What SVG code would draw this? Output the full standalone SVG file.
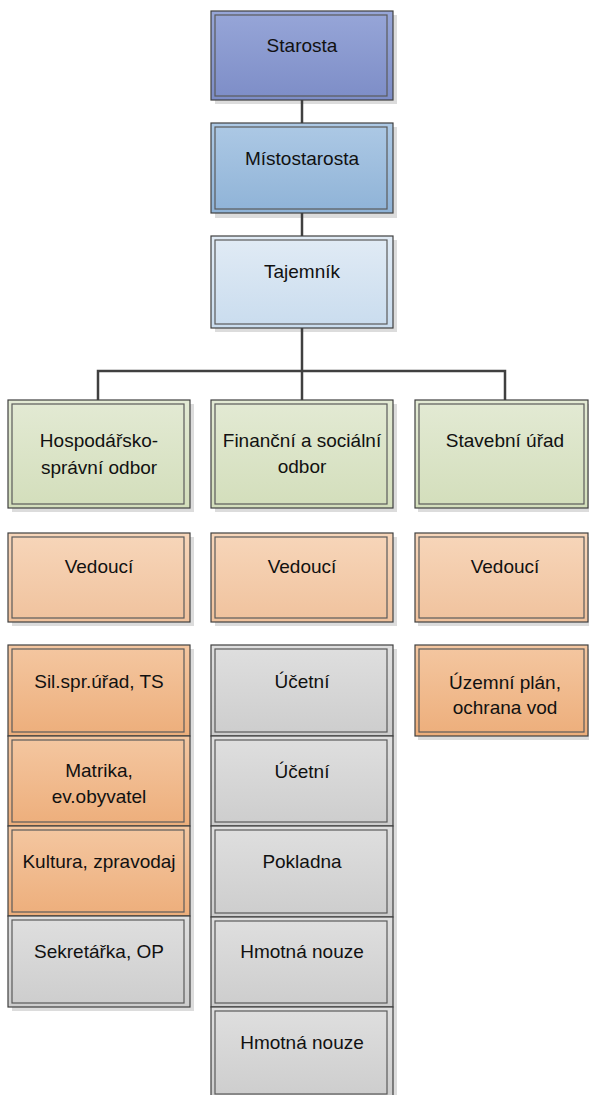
<svg xmlns="http://www.w3.org/2000/svg" width="589" height="1095" viewBox="0 0 589 1095">
<defs>
<linearGradient id="gPurple" x1="0" y1="0" x2="0" y2="1"><stop offset="0" stop-color="#97a6d8"/><stop offset="1" stop-color="#7d8dc7"/></linearGradient>
<linearGradient id="gBlue" x1="0" y1="0" x2="0" y2="1"><stop offset="0" stop-color="#adc9e5"/><stop offset="1" stop-color="#8fb3d7"/></linearGradient>
<linearGradient id="gLight" x1="0" y1="0" x2="0" y2="1"><stop offset="0" stop-color="#e1ebf5"/><stop offset="1" stop-color="#c9dcee"/></linearGradient>
<linearGradient id="gGreen" x1="0" y1="0" x2="0" y2="1"><stop offset="0" stop-color="#e3ead4"/><stop offset="1" stop-color="#d3debb"/></linearGradient>
<linearGradient id="gPeach" x1="0" y1="0" x2="0" y2="1"><stop offset="0" stop-color="#f7d6ba"/><stop offset="1" stop-color="#f0c29d"/></linearGradient>
<linearGradient id="gOrange" x1="0" y1="0" x2="0" y2="1"><stop offset="0" stop-color="#f4c7a1"/><stop offset="1" stop-color="#edae7b"/></linearGradient>
<linearGradient id="gGray" x1="0" y1="0" x2="0" y2="1"><stop offset="0" stop-color="#dfdfdf"/><stop offset="1" stop-color="#cdcdcd"/></linearGradient>
</defs>
<style>
.o{stroke:#404040;stroke-width:1.2}
.i{fill:none;stroke:#5a5a5a;stroke-width:1.2}
.sh{fill:#dcdcdc}
.t{font-family:"Liberation Sans",Arial,sans-serif;font-size:19px;fill:#111;text-anchor:middle}
.c{fill:none;stroke:#404040;stroke-width:2.5}
</style>

<g id="shadows">
<rect class="sh" x="215" y="15" width="182" height="89"/>
<rect class="sh" x="215" y="127" width="182" height="91"/>
<rect class="sh" x="215" y="240" width="182" height="92"/>
<rect class="sh" x="12" y="404" width="182" height="108"/>
<rect class="sh" x="215" y="404" width="182" height="108"/>
<rect class="sh" x="418" y="404" width="182" height="108"/>
<rect class="sh" x="12" y="537" width="182" height="89"/>
<rect class="sh" x="215" y="537" width="182" height="89"/>
<rect class="sh" x="418" y="537" width="182" height="89"/>
<rect class="sh" x="12" y="649" width="182" height="362"/>
<rect class="sh" x="215" y="649" width="182" height="460"/>
<rect class="sh" x="418" y="649" width="182" height="91"/>
</g>

<g id="connectors">
<path class="c" d="M302 100V123"/>
<path class="c" d="M302 213V236"/>
<path class="c" d="M302 328V400"/>
<path class="c" d="M98 400V371H505V400"/>
</g>

<g id="starosta"><rect class="o" x="211" y="11" width="182" height="89" fill="url(#gPurple)"/><rect class="i" x="215" y="15" width="172" height="81"/><text class="t" x="302" y="52">Starosta</text></g>
<g id="mistostarosta"><rect class="o" x="211" y="123" width="182" height="90" fill="url(#gBlue)"/><rect class="i" x="215" y="127" width="172" height="82"/><text class="t" x="302" y="165">Místostarosta</text></g>
<g id="tajemnik"><rect class="o" x="211" y="236" width="182" height="92" fill="url(#gLight)"/><rect class="i" x="215" y="240" width="172" height="84"/><text class="t" x="302" y="278">Tajemník</text></g>

<g id="hospodarsko"><rect class="o" x="8" y="400" width="182" height="108" fill="url(#gGreen)"/><rect class="i" x="12" y="404" width="172" height="100"/><text class="t" x="99" y="447">Hospodářsko-</text><text class="t" x="99" y="474">správní odbor</text></g>
<g id="financni"><rect class="o" x="211" y="400" width="182" height="108" fill="url(#gGreen)"/><rect class="i" x="215" y="404" width="172" height="100"/><text class="t" x="302" y="447">Finanční a sociální</text><text class="t" x="302" y="473">odbor</text></g>
<g id="stavebni"><rect class="o" x="415" y="400" width="173" height="108" fill="url(#gGreen)"/><rect class="i" x="419" y="404" width="165" height="100"/><text class="t" x="505" y="447">Stavební úřad</text></g>

<g id="vedouci1"><rect class="o" x="8" y="533" width="182" height="89" fill="url(#gPeach)"/><rect class="i" x="12" y="537" width="172" height="81"/><text class="t" x="99" y="573">Vedoucí</text></g>
<g id="vedouci2"><rect class="o" x="211" y="533" width="182" height="89" fill="url(#gPeach)"/><rect class="i" x="215" y="537" width="172" height="81"/><text class="t" x="302" y="573">Vedoucí</text></g>
<g id="vedouci3"><rect class="o" x="415" y="533" width="173" height="89" fill="url(#gPeach)"/><rect class="i" x="419" y="537" width="165" height="81"/><text class="t" x="505" y="573">Vedoucí</text></g>

<g id="silspr"><rect class="o" x="8" y="645" width="182" height="91" fill="url(#gOrange)"/><rect class="i" x="12" y="649" width="172" height="83"/><text class="t" x="99" y="688">Sil.spr.úřad, TS</text></g>
<g id="matrika"><rect class="o" x="8" y="736" width="182" height="90" fill="url(#gOrange)"/><rect class="i" x="12" y="740" width="172" height="82"/><text class="t" x="99" y="777">Matrika,</text><text class="t" x="99" y="803">ev.obyvatel</text></g>
<g id="kultura"><rect class="o" x="8" y="826" width="182" height="90" fill="url(#gOrange)"/><rect class="i" x="12" y="830" width="172" height="82"/><text class="t" x="99" y="868">Kultura, zpravodaj</text></g>
<g id="sekretarka"><rect class="o" x="8" y="916" width="182" height="91" fill="url(#gGray)"/><rect class="i" x="12" y="920" width="172" height="83"/><text class="t" x="99" y="958">Sekretářka, OP</text></g>

<g id="ucetni1"><rect class="o" x="211" y="645" width="182" height="91" fill="url(#gGray)"/><rect class="i" x="215" y="649" width="172" height="83"/><text class="t" x="302" y="688">Účetní</text></g>
<g id="ucetni2"><rect class="o" x="211" y="736" width="182" height="90" fill="url(#gGray)"/><rect class="i" x="215" y="740" width="172" height="82"/><text class="t" x="302" y="778">Účetní</text></g>
<g id="pokladna"><rect class="o" x="211" y="826" width="182" height="91" fill="url(#gGray)"/><rect class="i" x="215" y="830" width="172" height="83"/><text class="t" x="302" y="868">Pokladna</text></g>
<g id="hmotna1"><rect class="o" x="211" y="917" width="182" height="90" fill="url(#gGray)"/><rect class="i" x="215" y="921" width="172" height="82"/><text class="t" x="302" y="958">Hmotná nouze</text></g>
<g id="hmotna2"><rect class="o" x="211" y="1007" width="182" height="91" fill="url(#gGray)"/><rect class="i" x="215" y="1011" width="172" height="83"/><text class="t" x="302" y="1049">Hmotná nouze</text></g>

<g id="uzemni"><rect class="o" x="415" y="645" width="173" height="91" fill="url(#gOrange)"/><rect class="i" x="419" y="649" width="165" height="83"/><text class="t" x="505" y="689">Územní plán,</text><text class="t" x="505" y="714">ochrana vod</text></g>
</svg>
